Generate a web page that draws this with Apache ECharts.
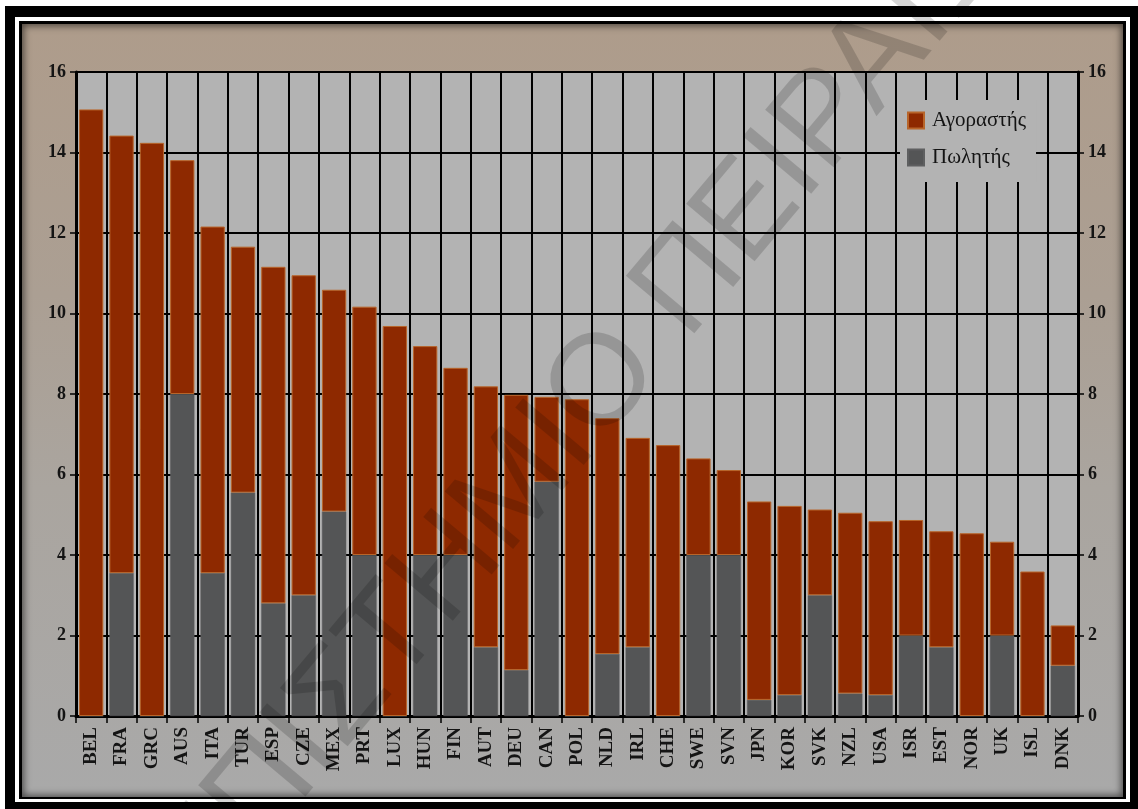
<!DOCTYPE html>
<html>
<head>
<meta charset="utf-8">
<title>Αγοραστής / Πωλητής</title>
<script src="https://cdn.jsdelivr.net/npm/echarts@6/dist/echarts.min.js"></script>
<style>
  html, body { margin: 0; padding: 0; background: #ffffff; width: 1138px; height: 809px; overflow: hidden; }
  .box { position: absolute; box-sizing: border-box; }
  #f1 { left: 5px; top: 6px; width: 1133px; height: 803px; background: #000; }
  #f2 { left: 15px; top: 17px; width: 1115px; height: 785px; background: #fff; }
  #f3 { left: 19px; top: 21px; width: 1107px; height: 778px; background: #000; }
  #panel {
    left: 22px; top: 24px; width: 1101px; height: 773px;
    background: linear-gradient(to bottom, #ae9c8b 0%, #ab9f93 35%, #aaa59f 60%, #a9a9a9 100%);
    box-shadow: inset 0 0 7px 2px rgba(0,0,0,0.55);
  }
  #chart { position: absolute; left: 0; top: 0; width: 1138px; height: 809px; }
</style>
</head>
<body>
<div class="box" id="f1"></div>
<div class="box" id="f2"></div>
<div class="box" id="f3"></div>
<div class="box" id="panel"></div>
<div id="chart"></div>
<script>
// Country codes, in the order the bars are drawn
const countries = ['BEL','FRA','GRC','AUS','ITA','TUR','ESP','CZE','MEX','PRT','LUX','HUN','FIN','AUT','DEU','CAN','POL','NLD','IRL','CHE','SWE','SVN','JPN','KOR','SVK','NZL','USA','ISR','EST','NOR','UK','ISL','DNK'];

// Share paid by the seller (lower, grey segment)
const sellerValues = [0, 3.55, 0, 8.0, 3.55, 5.55, 2.8, 3.0, 5.08, 4.0, 0, 4.0, 4.0, 1.71, 1.14, 5.82, 0, 1.54, 1.71, 0, 4.0, 4.0, 0.40, 0.52, 3.0, 0.56, 0.52, 2.0, 1.71, 0, 2.0, 0, 1.25];

// Share paid by the buyer (upper, red segment)
const buyerValues = [15.07, 10.87, 14.24, 5.81, 8.61, 6.11, 8.36, 7.95, 5.51, 6.17, 9.69, 5.19, 4.65, 6.48, 6.84, 2.11, 7.87, 5.86, 5.20, 6.73, 2.40, 2.11, 4.93, 4.70, 2.13, 4.49, 4.32, 2.87, 2.88, 4.54, 2.33, 3.59, 1.00];

const seriesNames = ['Αγοραστής', 'Πωλητής'];
const yMin = 0, yMax = 16, yStep = 2;

const serif = 'Liberation Serif';
const ink = '#141414';

const valueAxis = (position) => ({
  type: 'value',
  position: position,
  min: yMin,
  max: yMax,
  interval: yStep,
  axisLine: { show: true, lineStyle: { color: '#000', width: 3 } },
  axisTick: { show: true, length: 6, lineStyle: { color: '#000', width: 1.5 } },
  axisLabel: { fontFamily: serif, fontSize: 18, fontWeight: 'bold', color: ink, margin: 10 },
  splitLine: position === 'left'
    ? { show: true, lineStyle: { color: '#000', width: 2 } }
    : { show: false }
});

const chart = echarts.init(document.getElementById('chart'), null, { renderer: 'canvas' });

chart.setOption({
  backgroundColor: 'transparent',
  animation: false,
  grid: { left: 76, right: 60, top: 72, bottom: 93, backgroundColor: '#b3b3b3', show: true, borderWidth: 0 },
  legend: {
    data: seriesNames,
    orient: 'vertical',
    left: 900,
    top: 100,
    backgroundColor: '#b3b3b3',
    padding: [10, 10, 14, 7],
    itemWidth: 16,
    itemHeight: 16,
    itemGap: 16,
    icon: 'rect',
    textStyle: { fontFamily: serif, fontSize: 21, color: ink, padding: [0, 0, 0, 3] }
  },
  xAxis: {
    type: 'category',
    data: countries,
    boundaryGap: true,
    axisLine: { show: true, lineStyle: { color: '#000', width: 3 } },
    axisTick: { show: true, interval: 0, length: 7, lineStyle: { color: '#000', width: 1.5 } },
    axisLabel: { interval: 0, rotate: 90, fontFamily: serif, fontSize: 19, fontWeight: 'bold', color: ink, margin: 11 },
    splitLine: { show: true, interval: 0, lineStyle: { color: '#000', width: 2 } }
  },
  yAxis: [valueAxis('left'), valueAxis('right')],
  series: [
    {
      name: 'Πωλητής',
      type: 'bar',
      stack: 'cost',
      barCategoryGap: '20%',
      data: sellerValues,
      itemStyle: { color: '#545556', borderColor: '#5e5f60', borderWidth: 0.5 }
    },
    {
      name: 'Αγοραστής',
      type: 'bar',
      stack: 'cost',
      barCategoryGap: '20%',
      data: buyerValues,
      itemStyle: { color: '#8e2900', borderColor: '#b8652a', borderWidth: 1 }
    }
  ],
  graphic: [
    {
      // diagonal watermark laid over the whole page
      type: 'text',
      z: 100,
      silent: true,
      x: 521,
      y: 484,
      rotation: 50 * Math.PI / 180,
      style: {
        text: 'ΠΑΝΕΠΙΣΤΗΜΙΟ ΠΕΙΡΑΙΩΣ',
        fontFamily: 'Liberation Sans',
        fontSize: 130,
        fill: 'rgba(0,0,0,0.16)',
        align: 'center',
        verticalAlign: 'middle'
      }
    }
  ]
});
</script>
</body>
</html>
